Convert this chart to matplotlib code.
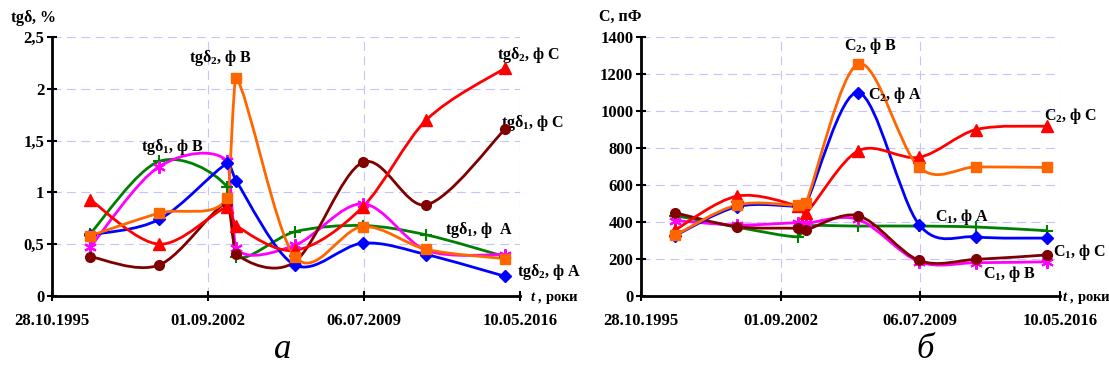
import numpy as np
import matplotlib
matplotlib.use('Agg')
import matplotlib.pyplot as plt
import matplotlib.dates as mdates
from matplotlib.path import Path
from matplotlib.patches import PathPatch
from matplotlib.ticker import FuncFormatter

plt.rcParams['font.family'] = 'Liberation Serif'
plt.rcParams['font.weight'] = 'bold'
plt.rcParams['mathtext.fontset'] = 'custom'
plt.rcParams['mathtext.rm'] = 'Liberation Serif:bold'
plt.rcParams['mathtext.bf'] = 'Liberation Serif:bold'
plt.rcParams['mathtext.it'] = 'Liberation Serif:italic:bold'

# measurement dates
dates = ['1997-06-29', '2000-07-13', '2003-07-08', '2003-11-26',
         '2006-06-22', '2009-06-16', '2012-04-01', '2015-09-13']
xticks = ['1995-10-28', '2002-09-01', '2009-07-06', '2016-05-10']

# tg delta, %
tgd1_A = [0.60, 1.30, 1.05, 0.38, 0.62, 0.68, 0.59, 0.38]
tgd1_B = [0.47, 1.25, 1.30, 0.46, 0.49, 0.89, 0.44, 0.40]
tgd1_C = [0.38, 0.30, 0.90, 0.41, 0.33, 1.29, 0.88, 1.61]
tgd2_A = [0.59, 0.74, 1.28, 1.11, 0.30, 0.51, 0.40, 0.19]
tgd2_B = [0.58, 0.80, 0.95, 2.10, 0.38, 0.67, 0.45, 0.36]
tgd2_C = [0.93, 0.50, 0.86, 0.68, 0.44, 0.86, 1.70, 2.20]

# capacitance, pF
C1_A = [435, 372, 320, 377, 378, 378, 373, 353]
C1_B = [408, 384, 396, 392, 414, 185, 180, 185]
C1_C = [450, 375, 366, 357, 434, 192, 198, 222]
C2_A = [326, 483, 485, 497, 1100, 385, 320, 313]
C2_B = [328, 492, 490, 502, 1255, 695, 698, 695]
C2_C = [357, 540, 486, 447, 785, 750, 900, 918]

styles = {
    'A1': ('#008000', '+', 9),
    'B1': ('#ff00ff', (6, 2, 0), 9),
    'C1': ('#800000', 'o', 7),
    'A2': ('#0000ff', 'D', 6),
    'B2': ('#ff6600', 's', 7),
    'C2': ('#ff0000', '^', 8),
}


def smooth_line(ax, x, y, color):
    # excel-like smoothed line as cubic bezier path
    pts = np.column_stack([x, y]).astype(float)
    n = len(pts)
    tang = [(pts[min(i + 1, n - 1)] - pts[max(i - 1, 0)]) / 6.0 for i in range(n)]
    verts = [pts[0]]
    codes = [Path.MOVETO]
    for i in range(n - 1):
        p0, p1 = pts[i], pts[i + 1]
        lim = (p1[0] - p0[0]) / 3.0
        t0, t1 = tang[i].copy(), tang[i + 1].copy()
        if t0[0] > lim:
            t0 *= lim / t0[0]
        if t1[0] > lim:
            t1 *= lim / t1[0]
        verts += [p0 + t0, p1 - t1, p1]
        codes += [Path.CURVE4] * 3
    ax.add_patch(PathPatch(Path(verts, codes), facecolor='none',
                           edgecolor=color, lw=2, zorder=3))


def setup(ax, ymax, ystep, fmt):
    ax.set_xlim(mdates.date2num(np.datetime64(xticks[0])), mdates.date2num(np.datetime64(xticks[-1])))
    ax.set_xticks(mdates.date2num(np.array(xticks, dtype='datetime64[D]')))
    ax.xaxis.set_major_formatter(mdates.DateFormatter('%d.%m.%Y'))
    ax.set_ylim(0, ymax)
    ax.set_yticks(np.arange(0, ymax + ystep / 2, ystep))
    ax.yaxis.set_major_formatter(FuncFormatter(fmt))
    for s in ['top', 'right']:
        ax.spines[s].set_visible(False)
    for s in ['left', 'bottom']:
        ax.spines[s].set_linewidth(2)
    ax.tick_params(direction='inout', length=7, width=1.5, labelsize=12)
    ax.tick_params(axis='x', pad=9)
    ax.tick_params(axis='y', pad=2)
    ax.grid(True, color='#c4c4ff', linestyle=(0, (8, 5)), lw=0.8)
    ax.set_axisbelow(True)
    for lab in ax.get_xticklabels() + ax.get_yticklabels():
        lab.set_fontweight('bold')


fig = plt.figure(figsize=(11.09, 3.74), dpi=100)
ax1 = fig.add_axes([52 / 1109, 78 / 374, 468 / 1109, 259 / 374])
ax2 = fig.add_axes([641 / 1109, 78 / 374, 419 / 1109, 259 / 374])

xd = mdates.date2num(np.array(dates, dtype='datetime64[D]'))

left = [('A1', tgd1_A), ('B1', tgd1_B), ('C1', tgd1_C),
        ('A2', tgd2_A), ('C2', tgd2_C), ('B2', tgd2_B)]
right = [('A1', C1_A), ('B1', C1_B), ('C1', C1_C),
         ('A2', C2_A), ('C2', C2_C), ('B2', C2_B)]

for ax, series in [(ax1, left), (ax2, right)]:
    for key, vals in series:
        col, mk, ms = styles[key]
        smooth_line(ax, xd, vals, col)
        ax.plot(xd, vals, linestyle='none', marker=mk, color=col, ms=ms,
                mew=1.5 if mk in ('+', (6, 2, 0)) else 1, zorder=4)

setup(ax1, 2.5, 0.5, lambda v, p: ('%g' % v).replace('.', ','))
setup(ax2, 1400, 200, lambda v, p: '%d' % v)


def d(s):
    return mdates.date2num(np.datetime64(s))


fs = 11.5
ax1.text(d('2001-11-01'), 2.30, r'tg$\mathbf{\delta}_{\mathbf{2}}$, ф B', fontsize=fs, va='center')
ax1.text(d('1999-09-20'), 1.44, r'tg$\mathbf{\delta}_{\mathbf{1}}$, ф B', fontsize=fs, va='center')
ax1.text(d('2015-05-10'), 2.33, r'tg$\mathbf{\delta}_{\mathbf{2}}$, ф C', fontsize=fs, va='center')
ax1.text(d('2015-07-10'), 1.67, r'tg$\mathbf{\delta}_{\mathbf{1}}$, ф C', fontsize=fs, va='center')
ax1.text(d('2013-01-26'), 0.64, r'tg$\mathbf{\delta}_{\mathbf{1}}$, ф  A', fontsize=fs, va='center')
ax1.text(d('2016-03-20'), 0.23, r'tg$\mathbf{\delta}_{\mathbf{2}}$, ф A', fontsize=fs, va='center', clip_on=False)

ax2.text(d('2005-10-15'), 1351, r'C$_{\mathbf{2}}$, ф B', fontsize=fs, va='center')
ax2.text(d('2006-12-05'), 1086, r'C$_{\mathbf{2}}$, ф A', fontsize=fs, va='center')
ax2.text(d('2015-07-30'), 973, r'C$_{\mathbf{2}}$, ф C', fontsize=fs, va='center', clip_on=False)
ax2.text(d('2010-04-01'), 427, r'C$_{\mathbf{1}}$, ф A', fontsize=fs, va='center')
ax2.text(d('2016-01-01'), 238, r'C$_{\mathbf{1}}$, ф C', fontsize=fs, va='center', clip_on=False)
ax2.text(d('2012-08-08'), 119, r'C$_{\mathbf{1}}$, ф B', fontsize=fs, va='center')

fig.text(10 / 1109, 1 - 18 / 374, r'tg$\mathbf{\delta}$, %', fontsize=11.5, va='center')
fig.text(599 / 1109, 1 - 17 / 374, 'С, пФ', fontsize=11.5, va='center')
fig.text(530 / 1109, 1 - 298 / 374, r'$t$ , роки', fontsize=10.5, va='center')
fig.text(1062 / 1109, 1 - 298 / 374, r'$t$ , роки', fontsize=10.5, va='center')

fig.text(283 / 1109, 24 / 374, 'а', fontsize=25, style='italic', weight='normal', ha='center', va='center')
fig.text(925 / 1109, 24 / 374, 'б', fontsize=25, style='italic', weight='normal', ha='center', va='center')

fig.savefig('out.png', dpi=100)
